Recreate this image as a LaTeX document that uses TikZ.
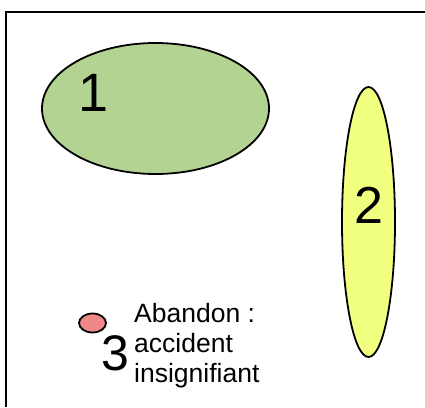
\documentclass[tikz,border=0pt]{standalone}
\usepackage{fontspec}
\setmainfont{Liberation Sans}
\usetikzlibrary{shapes.geometric}

\definecolor{zonegreen}{RGB}{179,211,147}
\definecolor{zoneyellow}{RGB}{240,255,128}
\definecolor{zonered}{RGB}{240,136,136}

\tikzset{
  zone/.style={ellipse, draw=black, line width=1.8pt, inner sep=0pt},
  num/.style={inner sep=0pt, font=\fontsize{#1}{#1}\selectfont}
}

\begin{document}
\begin{tikzpicture}[x=1pt, y=-1pt]
    \useasboundingbox (0, 0) rectangle (425, 407);
    \draw[line width=2.2pt] (6, 407) -- (6, 11.7) -- (425, 11.7);
    \node[zone, fill=zonegreen, minimum width=227pt, minimum height=131pt] (z1) at (155.5, 108.5) {};
    \node[zone, fill=zoneyellow, minimum width=53pt, minimum height=270pt] (z2) at (368.5, 222) {};
    \node[zone, fill=zonered, minimum width=27pt, minimum height=19pt] (z3) at (92.5, 323) {};
    \node[num=54] (n1) at (94, 93) {1};
    \node[num=52] (n2) at (369, 205.5) {2};
    \node[num=50] (n3) at (115.5, 353) {3};
    \node[inner sep=0pt, anchor=base west, align=left,
          font=\fontsize{26.5}{30}\selectfont] (t3) at (134, 382) {Abandon :\\accident\\insignifiant};
\end{tikzpicture}
\end{document}
